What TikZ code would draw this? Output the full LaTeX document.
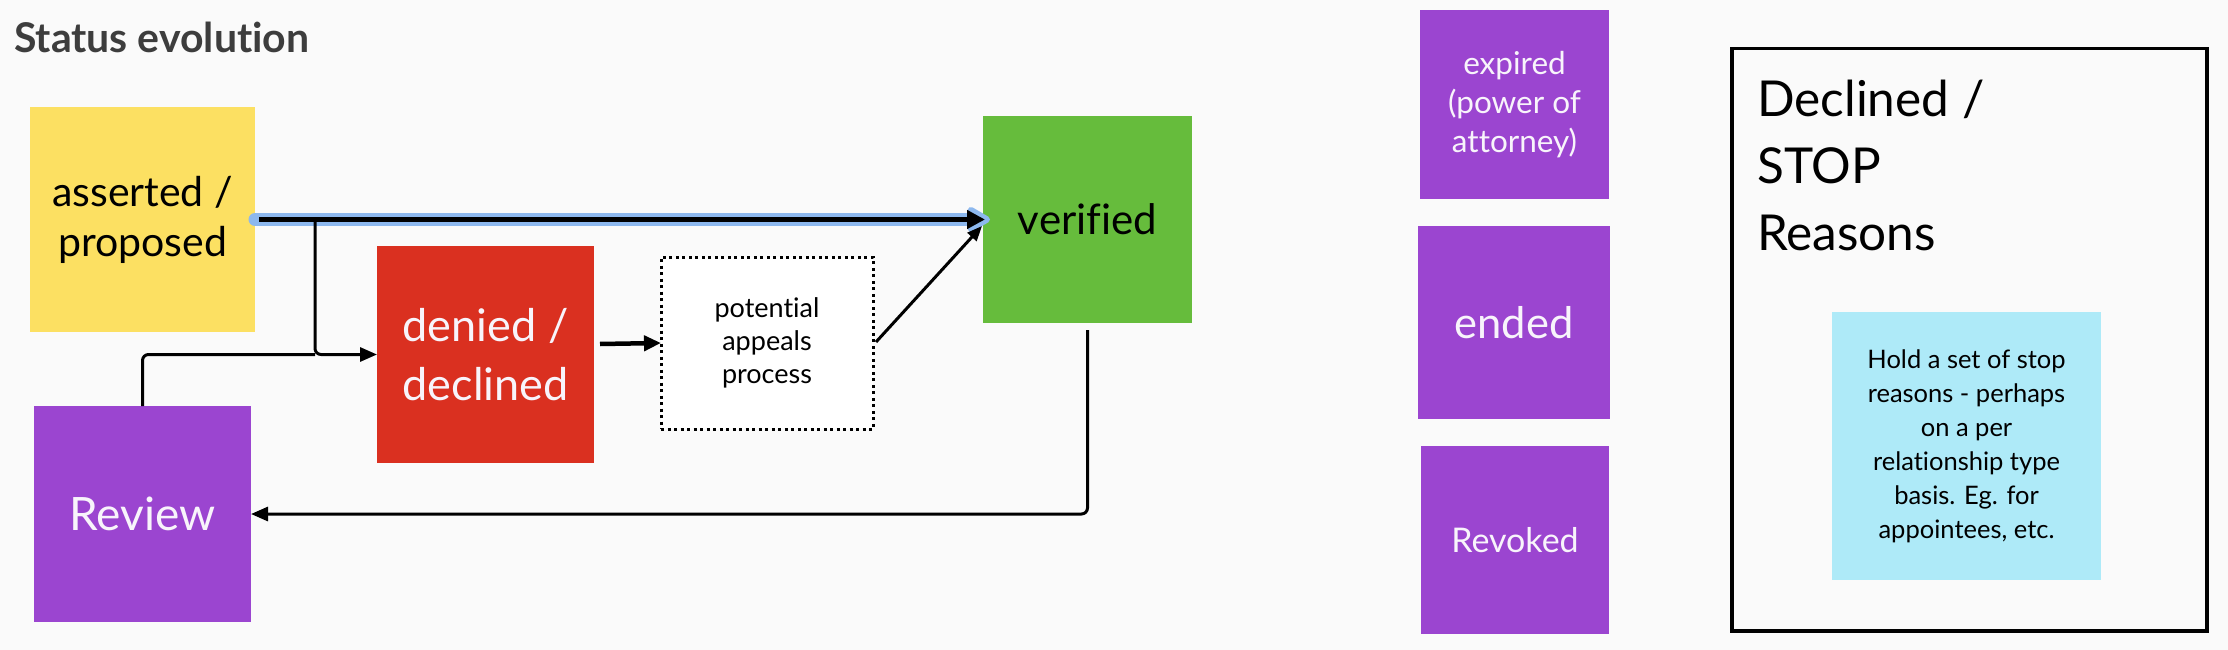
\documentclass[tikz,border=0pt]{standalone}
\usepackage{fontspec}
\setmainfont{Lato}[Ligatures=NoCommon]
\usetikzlibrary{arrows.meta,calc}
\definecolor{bg}{HTML}{FAFAFA}
\definecolor{cyellow}{HTML}{FCE062}
\definecolor{cgreen}{HTML}{66BC3C}
\definecolor{cred}{HTML}{DA3020}
\definecolor{cpurple}{HTML}{9B45D0}
\definecolor{cnote}{HTML}{AEEAF8}
\definecolor{ctitle}{HTML}{3D3D3D}
\definecolor{cglow}{HTML}{8DB8EE}
\definecolor{cwhite}{HTML}{F8F4FB}
\begin{document}
\begin{tikzpicture}[x=1pt,y=-1pt,
  sq/.style 2 args={minimum width=#1pt, minimum height=#2pt, inner sep=0pt, outer sep=0pt, align=center},
  fs/.style 2 args={font=\fontsize{#1pt}{#2pt}\selectfont},
  conn/.style={line width=3pt, black, rounded corners=6pt},
  tip/.style={-{Triangle[length=17pt,width=14pt]}}
]
\fill[bg] (0,0) rectangle (2228,650);
\useasboundingbox (0,0) rectangle (2228,650);

\node[anchor=base west, inner sep=0pt, text=ctitle, font=\fontsize{41pt}{46pt}\selectfont\bfseries] (title) at (14,53) {Status evolution};

\node[sq={225}{225}, fill=cyellow, fs={41}{50}] (asserted) at (142.5,219.5) {asserted /\\proposed};
\node[sq={209}{207}, fill=cgreen, fs={42}{50}] (verified) at (1087.5,219.5) {verified};
\node[sq={217}{217}, fill=cred, text=cwhite, fs={45}{59}] (denied) at (485.5,354.5) {denied /\\declined};
\node[sq={212}{172}, draw=black, line width=3pt, dash pattern=on 3pt off 3.5pt, fill=white, fs={27}{33}] (appeals) at (767,343) {potential\\appeals\\process};
\node[sq={217}{216}, fill=cpurple, text=cwhite, fs={46}{50}] (review) at (142.5,514) {Review};

\node[sq={189}{189}, fill=cpurple, text=cwhite, fs={31.5}{39}] (expired) at (1514.5,104.5) {expired\\(power of\\attorney)};
\node[sq={192}{193}, fill=cpurple, text=cwhite, fs={43.5}{50}] (ended) at (1514,322.5) {ended};
\node[sq={188}{188}, fill=cpurple, text=cwhite, fs={34}{40}] (revoked) at (1515,540) {Revoked};

\node[draw=black, line width=3.5pt, minimum width=475pt, minimum height=582pt, inner sep=0pt, anchor=north west] (stopbox) at (1730,47) {};
\node[anchor=north west, inner sep=0pt, align=left, fs={49.5}{67}] (stoptext) at (1757,80) {Declined /\\STOP\\Reasons};
\node[sq={269}{268}, fill=cnote, fs={25.5}{34}] (note) at (1966.5,446) {Hold a set of stop\\reasons - perhaps\\on a per\\relationship type\\basis. Eg. for\\appointees, etc.};

% main highlighted arrow
\draw[cglow, line width=13pt, line cap=round, line join=round, -{Triangle[length=26pt,width=28pt,round]}] (asserted.east) -- ([xshift=7pt]verified.west);
\draw[black, line width=5pt, -{Triangle[length=18pt,width=18pt]}] ([xshift=4pt]asserted.east) -- ([xshift=2pt]verified.west);

% branch to denied
\coordinate (b1) at (315,219.5);
\draw[conn, tip] (b1) |- (denied.west);
\draw[conn] (review.north) |- (b1 |- denied.west);

% denied -> appeals
\coordinate (d1) at (600,344);
\draw[black, line width=4.5pt, -{Triangle[length=17pt,width=15pt]}] (d1) -- (appeals.west);

% appeals -> verified
\coordinate (a1) at (876,342);
\coordinate (v2) at (982,226);
\draw[black, line width=3pt, -{Triangle[length=15pt,width=12pt]}] (a1) -- (v2);

% verified -> review
\coordinate (v1) at ($(verified.south)+(0,7)$);
\draw[conn, tip] (v1) |- (review.east);
\end{tikzpicture}
\end{document}
